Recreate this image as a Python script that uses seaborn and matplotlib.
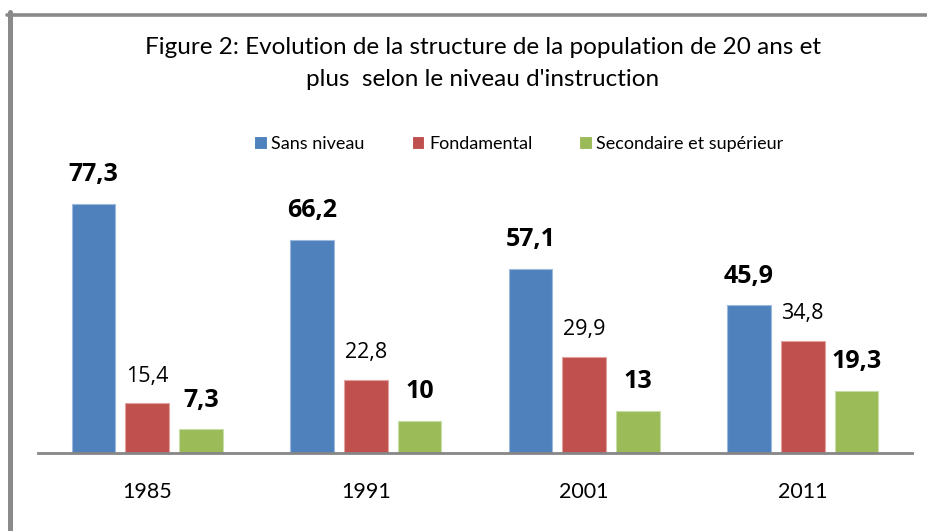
"""
Evolution de la structure de la population de 20 ans et plus selon le niveau d'instruction.
"""

import matplotlib.pyplot as plt
import pandas as pd
import seaborn as sns
from matplotlib.lines import Line2D

# Data
years = ["1985", "1991", "2001", "2011"]
levels = ["Sans niveau", "Fondamental", "Secondaire et supérieur"]
sans_niveau = [77.3, 66.2, 57.1, 45.9]
fondamental = [15.4, 22.8, 29.9, 34.8]
secondaire = [7.3, 10, 13, 19.3]

colors = ["#4F81BD", "#C0504D", "#9BBB59"]
edge_colors = ["#9DB9DE", "#E0A3A1", "#C9DDA6"]
bold_labels = [True, False, True]


def main():
    """
    """

    df = pd.DataFrame({
        "annee": years * 3,
        "niveau": [levels[0]] * 4 + [levels[1]] * 4 + [levels[2]] * 4,
        "valeur": sans_niveau + fondamental + secondaire,
    })

    sns.set_style("white")
    plt.rcParams['font.family'] = ['Lato', 'DejaVu Sans']
    plt.rcParams['text.color'] = 'black'
    plt.rcParams['xtick.color'] = 'black'

    fig = plt.figure(figsize=(9.27, 5.31), dpi=100)
    ax = fig.add_axes([38 / 927, 1 - 453 / 531, 874 / 927, 288 / 531])

    sns.barplot(data=df, x="annee", y="valeur", hue="niveau",
                hue_order=levels, palette=colors, width=0.74, gap=0.19,
                saturation=1, linewidth=0.8, ax=ax)

    # Light edges and data labels for each series
    for i, cont in enumerate(ax.containers):
        for bar in cont:
            bar.set_edgecolor(edge_colors[i])
        labels = [f"{v:g}".replace(".", ",") for v in cont.datavalues]
        if bold_labels[i]:
            ax.bar_label(cont, labels=labels, padding=12, fontsize=18,
                         fontweight="bold", color="black",
                         family=["Open Sans", "DejaVu Sans"])
        else:
            ax.bar_label(cont, labels=labels, padding=12, fontsize=15.5,
                         color="black", family=["Open Sans", "DejaVu Sans"])

    ax.set_ylim(0, 288 / 3.22)
    ax.set_xlim(-0.5, 3.5)
    ax.set_xlabel("")
    ax.set_ylabel("")
    ax.set_yticks([])
    for side in ["top", "right", "left"]:
        ax.spines[side].set_visible(False)
    ax.spines["bottom"].set_color("#868686")
    ax.spines["bottom"].set_linewidth(2)
    ax.tick_params(axis="x", length=0, pad=21, labelsize=15.5)

    sns.move_legend(ax, "center", bbox_to_anchor=(519 / 927, 1 - 144 / 531),
                    bbox_transform=fig.transFigure, ncol=3, frameon=False,
                    title=None, fontsize=13, handlelength=0.7,
                    handleheight=0.7, handletextpad=0.25, columnspacing=2.6)

    fig.text(483 / 927, 1 - 37 / 531,
             "Figure 2: Evolution de la structure de la population de 20 ans et\n"
             "plus  selon le niveau d'instruction",
             ha="center", va="top", fontsize=17.5, linespacing=1.65)

    # Grey frame around the chart (left and top edges visible)
    fig.add_artist(Line2D([9.5 / 927, 9.5 / 927], [0, 1 - 12 / 531],
                          transform=fig.transFigure, color="#8A8A8A", lw=3.6))
    fig.add_artist(Line2D([7 / 927, 1], [1 - 14.5 / 531, 1 - 14.5 / 531],
                          transform=fig.transFigure, color="#8A8A8A", lw=2.6))

    fig.savefig("out.png", dpi=100)


if __name__ == "__main__":
    main()
